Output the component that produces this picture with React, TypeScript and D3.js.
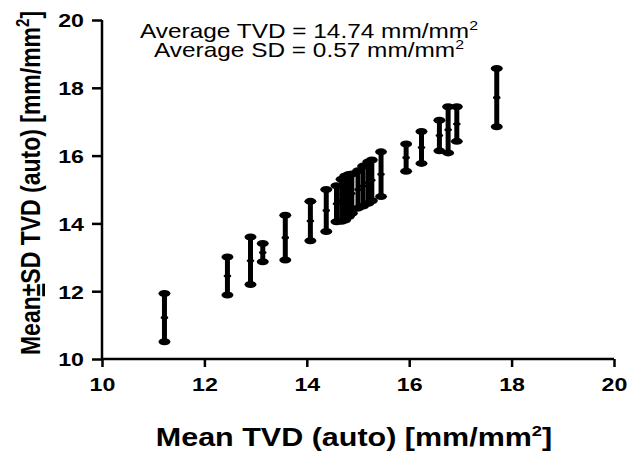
import React, { useRef, useEffect } from 'react';
import * as d3 from 'd3';

// mean TVD per subject and its SD (mm/mm2)
const means = [11.22, 12.45, 12.9, 13.14, 13.58, 14.07, 14.38, 14.58, 14.68, 14.75, 14.82, 14.88, 15.0, 15.1, 15.2, 15.27, 15.45, 15.94, 16.24, 16.59, 16.76, 16.93, 17.71];
const sds = [0.71, 0.56, 0.7, 0.27, 0.66, 0.58, 0.62, 0.53, 0.62, 0.65, 0.62, 0.58, 0.55, 0.59, 0.61, 0.6, 0.66, 0.4, 0.47, 0.45, 0.68, 0.51, 0.86];
const xTicks = [10, 12, 14, 16, 18, 20];
const yTicks = [10, 12, 14, 16, 18, 20];
const avgTVD = '14.74';
const avgSD = '0.57';

const App = () => {
  const svgRef = useRef<SVGSVGElement>(null);
  const width = 627;
  const height = 452;

  useEffect(() => {
    const svg = d3.select(svgRef.current);
    svg.selectAll('*').remove();

    const margin = { top: 20, right: 13, bottom: 93, left: 102 };
    const x = d3.scaleLinear().domain([10, 20]).range([margin.left, width - margin.right]);
    const y = d3.scaleLinear().domain([10, 20]).range([height - margin.bottom, margin.top]);
    const font = 'Liberation Sans, Arial, sans-serif';
    const sx = 1.22; // the original figure is stretched sideways

    const data = means.map((m, i) => ({ m, sd: sds[i] }));

    // error bars
    const bars = svg.append('g');
    data.forEach(d => {
      const g = bars.append('g');
      g.append('line')
        .attr('x1', x(d.m)).attr('x2', x(d.m))
        .attr('y1', y(d.m + d.sd)).attr('y2', y(d.m - d.sd))
        .attr('stroke', '#000').attr('stroke-width', 5);
      [d.m + d.sd, d.m - d.sd].forEach(v => {
        g.append('ellipse')
          .attr('cx', x(d.m)).attr('cy', y(v))
          .attr('rx', 6).attr('ry', 3.5).attr('fill', '#000');
      });
      g.append('ellipse')
        .attr('cx', x(d.m)).attr('cy', y(d.m))
        .attr('rx', 3.8).attr('ry', 1.8).attr('fill', '#000');
    });

    // axes
    const xAxis = svg.append('g')
      .attr('transform', `translate(0,${y(10)})`)
      .call(d3.axisBottom(x).tickValues(xTicks).tickSize(8).tickPadding(11).tickFormat(d3.format('d')));
    const yAxis = svg.append('g')
      .attr('transform', `translate(${x(10)},0)`)
      .call(d3.axisLeft(y).tickValues(yTicks).tickSize(10).tickPadding(8).tickFormat(d3.format('d')));
    [xAxis, yAxis].forEach(a => {
      a.select('.domain').attr('stroke', '#000').attr('stroke-width', 2.5);
      a.selectAll('.tick line').attr('stroke', '#000').attr('stroke-width', 2.5);
      a.selectAll('.tick text')
        .attr('fill', '#000')
        .attr('font-family', font)
        .attr('font-size', 19)
        .attr('font-weight', 'bold')
        .attr('transform', `scale(${sx},1)`);
    });
    yAxis.select('.domain').attr('d', `M0,${y(20)}V${y(10)}`);
    xAxis.select('.domain').attr('d', `M${x(10)},0H${x(20)}`);
    yAxis.selectAll('.tick text').attr('dy', '0.36em').attr('x', -18 / sx);

    // axis titles
    const xt = svg.append('text')
      .attr('transform', `translate(354,446) scale(${sx},1)`)
      .attr('text-anchor', 'middle')
      .attr('font-family', font).attr('font-size', 25).attr('font-weight', 'bold');
    xt.append('tspan').text('Mean TVD (auto) [mm/mm');
    xt.append('tspan').attr('dy', -10).attr('font-size', 15).text('2');
    xt.append('tspan').attr('dy', 10).text(']');

    const yt = svg.append('text')
      .attr('transform', `translate(40,183) scale(${sx},1) rotate(-90)`)
      .attr('text-anchor', 'middle')
      .attr('font-family', font).attr('font-size', 23).attr('font-weight', 'bold');
    yt.append('tspan').text('Mean');
    yt.append('tspan').attr('text-decoration', 'underline').text('±');
    yt.append('tspan').text('SD TVD (auto) [mm/mm');
    yt.append('tspan').attr('dy', -9).attr('font-size', 15).text('2');
    yt.append('tspan').attr('dy', 9).text(']');

    // annotation
    const lines = [`Average TVD = ${avgTVD} mm/mm`, `Average SD = ${avgSD} mm/mm`];
    lines.forEach((t, i) => {
      const tx = svg.append('text')
        .attr('transform', `translate(309,${38 + i * 19}) scale(${sx},1)`)
        .attr('text-anchor', 'middle')
        .attr('font-family', font).attr('font-size', 20);
      tx.append('tspan').text(t);
      tx.append('tspan').attr('dy', -8).attr('font-size', 13).text('2');
    });
  }, []);

  return <svg ref={svgRef} width={width} height={height} style={{ position: 'absolute', left: 0, top: 0 }} />;
};

export default App;
